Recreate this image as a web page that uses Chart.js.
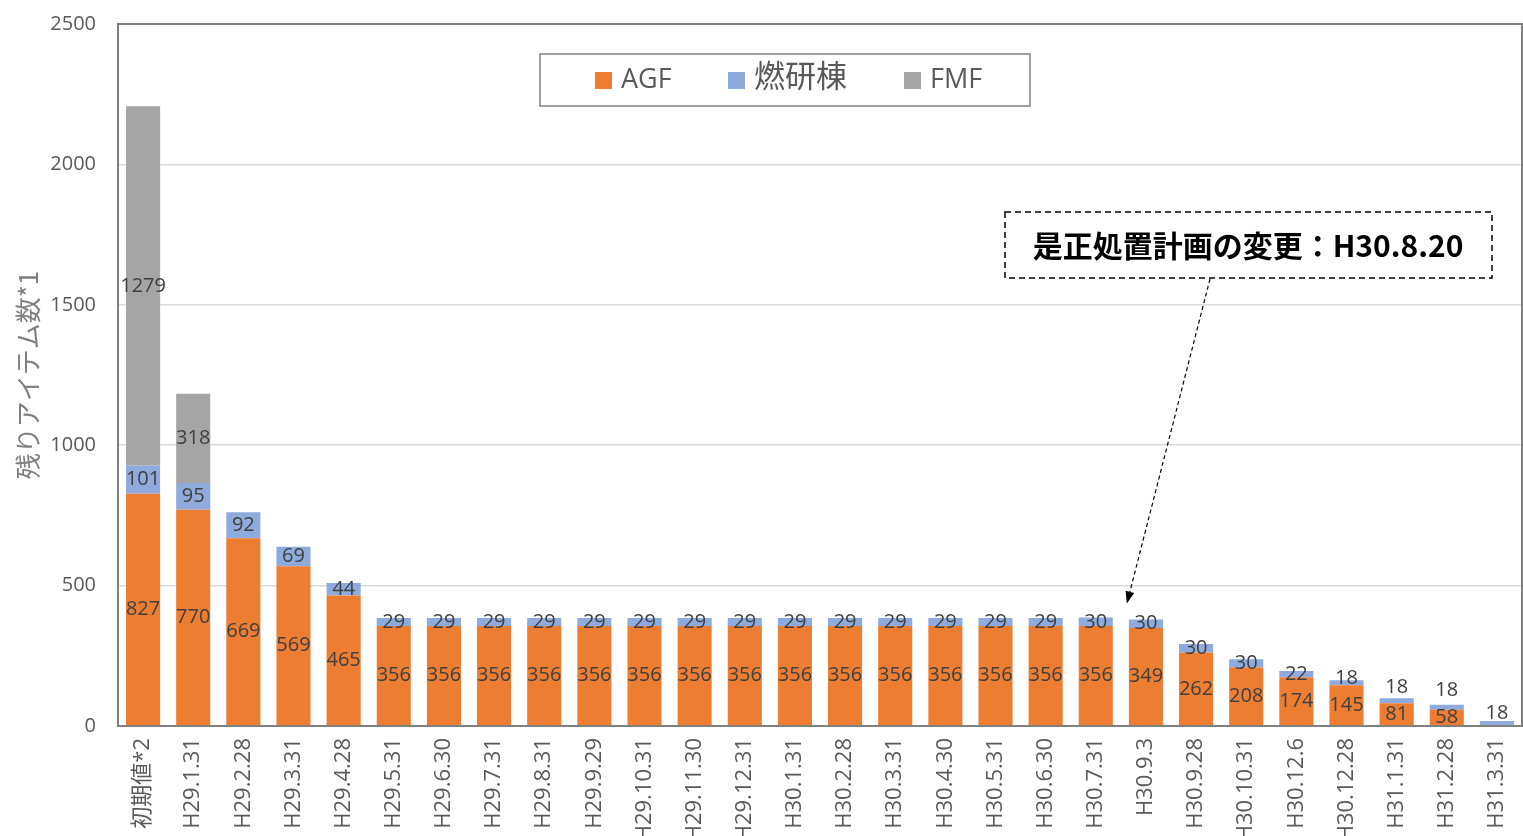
<!DOCTYPE html>
<html>
<head>
<meta charset="utf-8">
<script src="https://cdn.jsdelivr.net/npm/chart.js@4.4.0/dist/chart.umd.min.js"></script>
<style>
  html, body { margin: 0; padding: 0; background: #fff; overflow: hidden; }
  canvas { display: block; }
</style>
</head>
<body>
<canvas id="stockChart" width="1523" height="836"></canvas>
<script>
// Remaining items per date
const categories = [
  "初期値*2", "H29.1.31", "H29.2.28", "H29.3.31", "H29.4.28", "H29.5.31", "H29.6.30",
  "H29.7.31", "H29.8.31", "H29.9.29", "H29.10.31", "H29.11.30", "H29.12.31", "H30.1.31",
  "H30.2.28", "H30.3.31", "H30.4.30", "H30.5.31", "H30.6.30", "H30.7.31", "H30.9.3",
  "H30.9.28", "H30.10.31", "H30.12.6", "H30.12.28", "H31.1.31", "H31.2.28", "H31.3.31"
];
const agfValues = [827, 770, 669, 569, 465, 356, 356, 356, 356, 356, 356, 356, 356, 356,
  356, 356, 356, 356, 356, 356, 349, 262, 208, 174, 145, 81, 58, 0];
const nenkenValues = [101, 95, 92, 69, 44, 29, 29, 29, 29, 29, 29, 29, 29, 29,
  29, 29, 29, 29, 29, 30, 30, 30, 30, 22, 18, 18, 18, 18];
const fmfValues = [1279, 318, 0, 0, 0, 0, 0, 0, 0, 0, 0, 0, 0, 0,
  0, 0, 0, 0, 0, 0, 0, 0, 0, 0, 0, 0, 0, 0];
const seriesNames = ["AGF", "燃研棟", "FMF"];
const yTicks = [0, 500, 1000, 1500, 2000, 2500];
const noteText = "是正処置計画の変更：H30.8.20";

const orange = "#ED7D31";
const blue = "#8FAADC";
const grey = "#A5A5A5";
const textColor = "#595959";
const labelColor = "#404040";
const fontFamily = "'Open Sans', 'Noto Sans CJK JP', sans-serif";

// data labels, Excel style (centred, small ones nudged up)
const barLabels = {
  id: "barLabels",
  afterDatasetsDraw(chart) {
    const ctx = chart.ctx;
    const bottom = chart.chartArea.bottom;
    ctx.save();
    ctx.font = "20px " + fontFamily;
    ctx.fillStyle = labelColor;
    ctx.textAlign = "center";
    ctx.textBaseline = "middle";
    const orangeY = [];
    chart.data.datasets.forEach((ds, di) => {
      const meta = chart.getDatasetMeta(di);
      meta.data.forEach((bar, i) => {
        const v = ds.data[i];
        if (!v) return;
        let y = (bar.y + bar.base) / 2;
        if (di === 0) orangeY[i] = y;
        if (di === 1) {
          if (orangeY[i] !== undefined) y = Math.min(y, orangeY[i] - 27);
          y = Math.min(y, bottom - 13);
        }
        ctx.fillText(String(v), bar.x, y);
      });
    });
    ctx.restore();
  }
};

// frame, legend and the note with arrow
const decorations = {
  id: "decorations",
  afterDraw(chart) {
    const ctx = chart.ctx;
    const a = chart.chartArea;
    ctx.save();
    ctx.strokeStyle = "#808080";
    ctx.lineWidth = 2;
    ctx.strokeRect(a.left, a.top, a.right - a.left, a.bottom - a.top);

    // legend
    ctx.strokeStyle = "#7f7f7f";
    ctx.lineWidth = 1.5;
    ctx.strokeRect(540, 54, 490, 52);
    const items = [[595, orange], [728, blue], [904, grey]];
    ctx.textBaseline = "middle";
    ctx.textAlign = "left";
    items.forEach((it, k) => {
      ctx.fillStyle = it[1];
      ctx.fillRect(it[0], 72, 17, 17);
      ctx.fillStyle = textColor;
      const cjk = /[^\x00-\x7f]/.test(seriesNames[k]);
      ctx.font = (cjk ? "31px " : "27px ") + fontFamily;
      ctx.fillText(seriesNames[k], it[0] + 26, cjk ? 78 : 80);
    });

    // note box
    ctx.strokeStyle = "#000";
    ctx.lineWidth = 1.5;
    ctx.setLineDash([6, 4]);
    ctx.strokeRect(1005, 212, 487, 66);
    ctx.fillStyle = "#000";
    ctx.font = "bold 30px 'Noto Sans CJK JP', sans-serif";
    ctx.textAlign = "center";
    ctx.fillText(noteText, 1248, 246);

    // arrow to between H30.7.31 and H30.9.3
    const xs = chart.scales.x, ys = chart.scales.y;
    const tipX = (xs.getPixelForValue(19) + xs.getPixelForValue(20)) / 2 + 6;
    const tipY = ys.getPixelForValue(agfValues[19] + nenkenValues[19]) - 14;
    const sx = 1210, sy = 279;
    ctx.lineWidth = 1.2;
    ctx.setLineDash([4, 3]);
    ctx.beginPath();
    ctx.moveTo(sx, sy);
    ctx.lineTo(tipX, tipY);
    ctx.stroke();
    ctx.setLineDash([]);
    const ang = Math.atan2(tipY - sy, tipX - sx);
    ctx.beginPath();
    ctx.moveTo(tipX, tipY);
    ctx.lineTo(tipX - 13 * Math.cos(ang - 0.35), tipY - 13 * Math.sin(ang - 0.35));
    ctx.lineTo(tipX - 13 * Math.cos(ang + 0.35), tipY - 13 * Math.sin(ang + 0.35));
    ctx.closePath();
    ctx.fill();
    ctx.restore();
  }
};

new Chart(document.getElementById("stockChart").getContext("2d"), {
  type: "bar",
  data: {
    labels: categories,
    datasets: [
      { label: seriesNames[0], data: agfValues, backgroundColor: orange },
      { label: seriesNames[1], data: nenkenValues, backgroundColor: blue },
      { label: seriesNames[2], data: fmfValues, backgroundColor: grey }
    ]
  },
  options: {
    responsive: false,
    animation: false,
    devicePixelRatio: 1,
    layout: { padding: { top: 24, right: 1, left: 0, bottom: 0 } },
    datasets: { bar: { barPercentage: 0.68, categoryPercentage: 1, borderWidth: 0 } },
    plugins: { legend: { display: false }, tooltip: { enabled: false } },
    scales: {
      x: {
        stacked: true,
        grid: { display: false, drawTicks: false },
        border: { display: false },
        ticks: {
          autoSkip: false, maxRotation: 90, minRotation: 90, padding: 12,
          color: textColor, font: { family: fontFamily, size: 22 }
        },
        afterFit(axis) { axis.height = 110; axis.paddingLeft = 0; axis.paddingRight = 0; }
      },
      y: {
        stacked: true,
        min: 0, max: 2500,
        afterBuildTicks(axis) { axis.ticks = yTicks.map(v => ({ value: v })); },
        grid: { color: "#d9d9d9", lineWidth: 1.5, drawTicks: false },
        border: { display: false },
        ticks: {
          padding: 22, color: textColor, font: { family: fontFamily, size: 20 },
          callback: v => String(v)
        },
        title: {
          display: true, text: "残りアイテム数*1", color: "#7f7f7f",
          font: { family: "'Noto Sans CJK JP', sans-serif", size: 26 },
          padding: { top: 13, bottom: 0 }
        },
        afterFit(axis) { axis.width = 118; axis.paddingTop = 0; axis.paddingBottom = 0; }
      }
    }
  },
  plugins: [barLabels, decorations]
});
</script>
</body>
</html>
